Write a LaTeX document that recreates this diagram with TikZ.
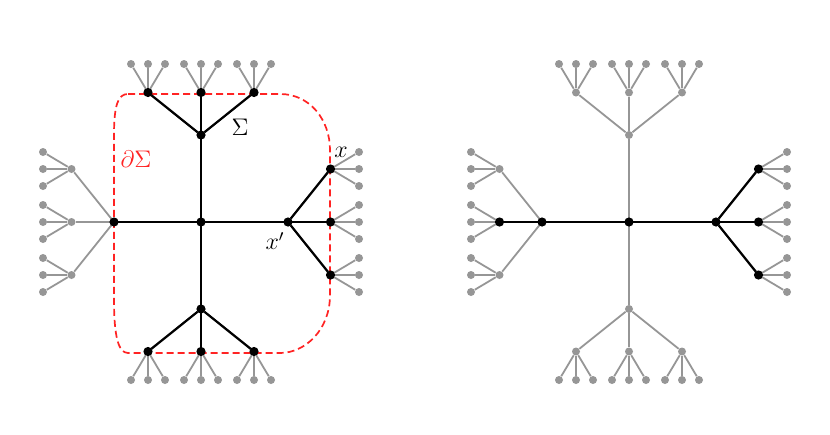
\documentclass[tikz,border=0pt]{standalone}
\usetikzlibrary{calc}
\definecolor{tgray}{RGB}{150,150,150}
\definecolor{bred}{RGB}{255,35,35}
\begin{document}
\begin{tikzpicture}[x=0.5pt,y=-0.5pt,
  gdot/.style={circle,fill=tgray,inner sep=0pt,minimum size=4pt},
  bdot/.style={circle,fill=black,inner sep=0pt,minimum size=4.6pt},
  gedge/.style={draw=tgray,line width=0.9pt},
  bedge/.style={draw=black,line width=1.1pt},
  boundary/.style={draw=bred,line width=0.85pt,dash pattern=on 3.5pt off 2pt},
  lbl/.style={inner sep=0pt,font=\fontsize{12}{14}\selectfont}
  ]
\useasboundingbox (0,0) rectangle (830,434);
% boundary curve
\draw[boundary] (128,94) -- (280,94) .. controls (310,94) and (330,120) .. (330,150)
  -- (330,295) .. controls (330,330) and (305,353) .. (280,353)
  -- (128,353) .. controls (118,353) and (114,335) .. (114,300)
  -- (114,135) .. controls (114,105) and (118,94) .. (128,94);
% trees (gray base)
\foreach \T/\cx in {L/201,R/629}{
  \node[gdot] (\T) at (\cx,222) {};
  \foreach \d/\dx/\dy/\px/\py in {t/0/-1/1/0,b/0/1/1/0,l/-1/0/0/1,r/1/0/0/1}{
    \node[gdot] (\T\d) at ($(\T)+({87*\dx},{87*\dy})$) {};
    \draw[gedge] (\T) -- (\T\d);
    \foreach \i/\s in {1/-1,2/0,3/1}{
      \node[gdot] (\T\d\i) at ($(\T\d)+({42.5*\dx+53*(\s)*\px},{42.5*\dy+53*(\s)*\py})$) {};
      \draw[gedge] (\T\d) -- (\T\d\i);
      \foreach \j/\u in {1/-1,2/0,3/1}{
        \node[gdot] (\T\d\i\j) at ($(\T\d\i)+({28.5*\dx+17*(\u)*\px},{28.5*\dy+17*(\u)*\py})$) {};
        \draw[gedge] (\T\d\i) -- (\T\d\i\j);
      }
    }
  }
}
% black edges
\foreach \a/\b in {L/Lt,L/Lb,L/Ll,L/Lr,Lt/Lt1,Lt/Lt2,Lt/Lt3,Lb/Lb1,Lb/Lb2,Lb/Lb3,Lr/Lr1,Lr/Lr2,Lr/Lr3,
                   R/Rl,Rl/Rl2,R/Rr,Rr/Rr1,Rr/Rr2,Rr/Rr3}{
  \draw[bedge] (\a) -- (\b);
}
% black nodes
\foreach \n in {L,Lt,Lb,Ll,Lr,Lt1,Lt2,Lt3,Lb1,Lb2,Lb3,Lr1,Lr2,Lr3,R,Rl,Rl2,Rr,Rr1,Rr2,Rr3}{
  \node[bdot] (k\n) at (\n) {};
}
% labels
\node[lbl,text=bred] (dS) at (136,159) {$\partial\Sigma$};
\node[lbl] (S) at (240,127) {$\Sigma$};
\node[lbl] (x) at (341,152) {$x$};
\node[lbl] (xp) at (275,241) {$x'$};
\end{tikzpicture}
\end{document}
